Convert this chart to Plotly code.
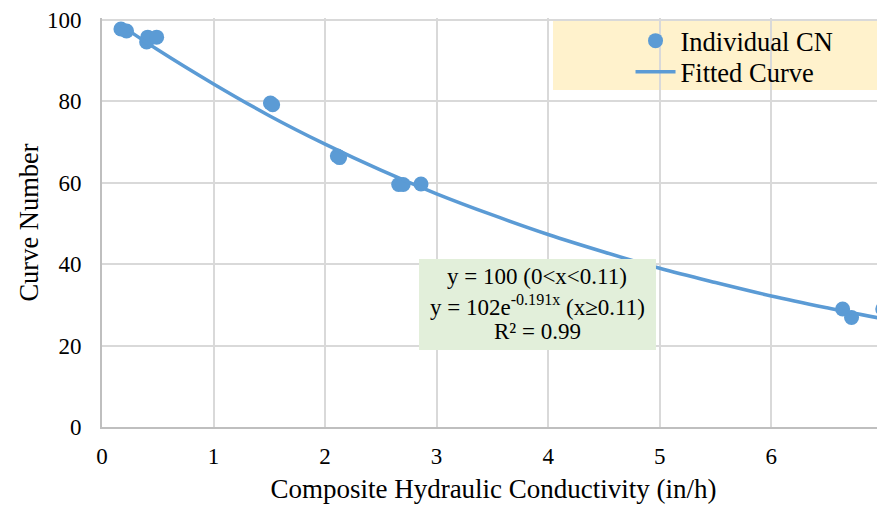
import plotly.graph_objects as go

# Individual CN observations
cn_x = [0.17, 0.22, 0.40, 0.41, 0.49, 1.51, 1.53, 2.11, 2.13, 2.66, 2.70, 2.86, 6.64, 6.72, 7.00]
cn_y = [97.8, 97.3, 94.6, 95.8, 95.8, 79.6, 79.2, 66.6, 66.2, 59.6, 59.6, 59.7, 29.0, 26.9, 29.0]

# Fitted curve points
fit_x = [0.17, 0.5, 1, 1.5, 2, 2.5, 3, 3.5, 4, 4.5, 5, 5.5, 6, 6.5, 7]
fit_y = [98.7, 92.7, 84.3, 76.5, 69.5, 63.1, 57.3, 52.1, 47.3, 43.0, 39.0, 35.5, 32.2, 29.3, 26.6]

x_ticks = [0, 1, 2, 3, 4, 5, 6, 7]
y_ticks = [0, 20, 40, 60, 80, 100]

eq_lines = ["y = 100 (0<x<0.11)", "y = 102e<sup>-0.191x</sup> (x≥0.11)", "R² = 0.99"]

blue = "#5b9bd5"
serif = "Liberation Serif, Times New Roman, serif"

fig = go.Figure()
fig.add_trace(go.Scatter(x=cn_x, y=cn_y, mode="markers", name="Individual CN", legend="legend",
                         showlegend=True, marker=dict(color=blue, size=15)))
fig.add_trace(go.Scatter(x=fit_x, y=fit_y, mode="lines", name="Fitted Curve", legend="legend2",
                         showlegend=True, line=dict(color=blue, width=3.5, shape="spline")))

eq_y = [0.3680, 0.2971, 0.2335]
annotations = [dict(x=0.5556, y=yy, xref="paper", yref="paper", showarrow=False,
                    xanchor="center", yanchor="middle", text=t, font=dict(size=23), borderpad=0)
               for t, yy in zip(eq_lines, eq_y)]

fig.update_layout(
    width=877, height=499, showlegend=True,
    margin=dict(l=94, r=0, t=10, b=80, autoexpand=False),
    paper_bgcolor="white", plot_bgcolor="white",
    font=dict(family=serif, size=23, color="black"),
    xaxis=dict(range=[0, 7.02], tickvals=x_ticks, showgrid=True, gridcolor="#d9d9d9", gridwidth=1.5,
               showline=True, linecolor="#bfbfbf", linewidth=2, zeroline=False, automargin=False,
               ticks="", ticklabelstandoff=7, ticklabeloverflow="allow",
               title=dict(text="Composite Hydraulic Conductivity (in/h)", font=dict(size=27), standoff=12),
               tickfont=dict(size=23)),
    yaxis=dict(range=[0, 100.5], tickvals=y_ticks, showgrid=True, gridcolor="#d9d9d9", gridwidth=1.5,
               showline=True, linecolor="#bfbfbf", linewidth=2, zeroline=False, automargin=False,
               ticks="", ticklabelstandoff=14, ticklabeloverflow="allow",
               title=dict(text="Curve Number", font=dict(size=26.5), standoff=1),
               tickfont=dict(size=23)),
    legend=dict(x=0.675, y=0.944, xanchor="left", yanchor="middle", bgcolor="rgba(0,0,0,0)",
                itemwidth=40, font=dict(size=26.5)),
    legend2=dict(x=0.675, y=0.868, xanchor="left", yanchor="middle", bgcolor="rgba(0,0,0,0)",
                 itemwidth=40, font=dict(size=26.5)),
    shapes=[dict(type="rect", xref="paper", yref="paper", x0=0.576, x1=1.0, y0=0.824, y1=0.995,
                 fillcolor="#fff2cc", line=dict(width=0), layer="below"),
            dict(type="rect", xref="paper", yref="paper", x0=0.4049, x1=0.7075, y0=0.1883, y1=0.4108,
                 fillcolor="#e2efda", line=dict(width=0), layer="above")],
    annotations=annotations,
)

fig.write_html("out.html")
